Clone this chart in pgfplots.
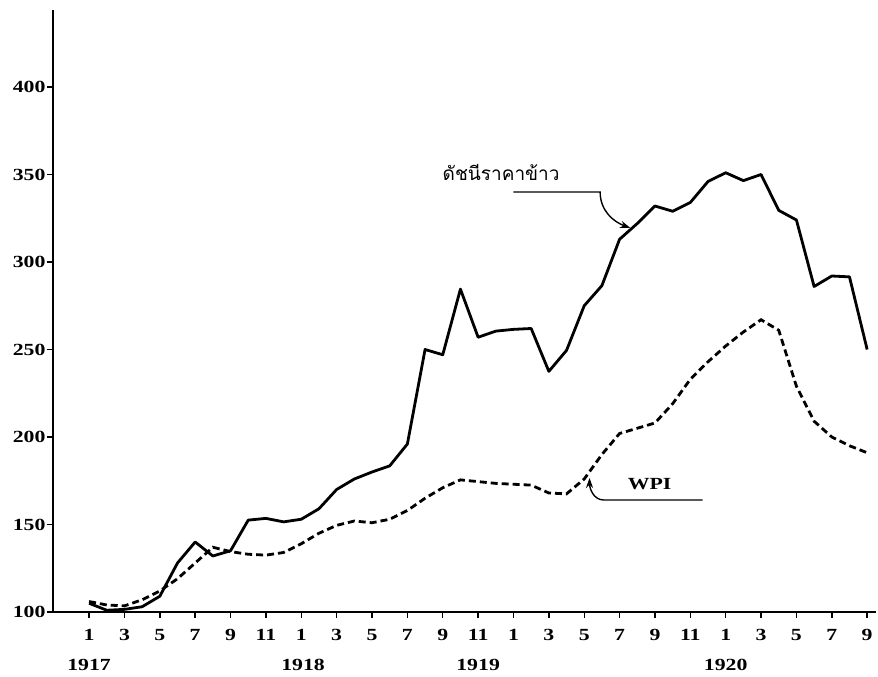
\documentclass[border=0pt]{standalone}
\usepackage{fontspec}
\setmainfont[FakeStretch=1.28]{Liberation Serif}
\newfontfamily\thaifont[Script=Thai]{Loma}
\usepackage{pgfplots}
\pgfplotsset{compat=1.18}
\usetikzlibrary{arrows.meta}

% month index: 0 = Jan 1917 ... 44 = Sep 1920
\pgfplotstableread{
m  rice
0  105
1  101
2  101.5
3  103
4  109
5  128
6  140
7  132
8  135
9  152.5
10 153.5
11 151.5
12 153
13 159
14 170
15 176
16 180
17 183.5
18 196
19 250
20 247
21 284.5
22 257
23 260.5
24 261.5
25 262
26 237.5
27 249.5
28 275
29 286.5
30 313
31 322
32 332
33 329
34 334
35 346
36 351
37 346.5
38 350
39 329.5
40 324
41 286
42 292
43 291.5
44 250
}\ricetable

\pgfplotstableread{
m  wpi
0  106
1  104
2  103.5
3  107
4  112
5  119
6  128
7  137
8  134.5
9  133
10 132.5
11 134
12 139
13 145
14 149.5
15 152
16 151
17 153
18 158
19 165
20 171
21 175.5
22 174.5
23 173.5
24 173
25 172.5
26 168
27 167.5
28 176
29 190
30 202
31 205
32 208
33 219
34 233
35 243
36 252
37 260
38 267
39 261
40 229
41 209
42 200
43 195
44 191
}\wpitable

\begin{document}
\begin{tikzpicture}
\begin{axis}[
  scale only axis,
  width=823pt, height=602pt,
  xmin=-2.04, xmax=44.5,
  ymin=100, ymax=444,
  axis x line=bottom, axis y line=left,
  axis line style={-, line width=2.2pt, black},
  xtick={0,2,...,44},
  xticklabels={1,3,5,7,9,11,1,3,5,7,9,11,1,3,5,7,9,11,1,3,5,7,9},
  ytick={100,150,...,400},
  tick align=outside,
  major tick length=6pt,
  tick style={line width=1.4pt, black},
  /pgf/number format/assume math mode=true,
  tick label style={font=\bfseries\fontsize{17}{20}\selectfont},
  xticklabel style={yshift=-8pt},
  yticklabel style={xshift=2pt},
  clip=false,
]
\addplot[black, line width=2.8pt, line join=round] table[x=m, y=rice] {\ricetable};
\addplot[black, line width=2.8pt, dash pattern=on 7pt off 4pt] table[x=m, y=wpi] {\wpitable};

\node[font=\thaifont\fontsize{19}{22}\selectfont] at (axis cs:23.3,351) {ดัชนีราคาข้าว};
\draw[line width=1.4pt, -{Stealth[length=10pt,width=7pt]}]
  (axis cs:24,340) -- (axis cs:28.9,340) to[out=-90,in=160] (axis cs:30.6,319.5);

\node[font=\bfseries\fontsize{17}{20}\selectfont] at (axis cs:31.7,173) {WPI};
\draw[line width=1.4pt, -{Stealth[length=10pt,width=7pt]}]
  (axis cs:34.7,164) -- (axis cs:29.1,164) to[out=180,in=-90] (axis cs:28.3,176.6);

\begin{scope}[font=\bfseries\fontsize{17}{20}\selectfont]
\node at (axis cs:0,100) [yshift=-53pt] {1917};
\node at (axis cs:12.1,100) [yshift=-53pt] {1918};
\node at (axis cs:22,100) [yshift=-53pt] {1919};
\node at (axis cs:36,100) [yshift=-53pt] {1920};
\end{scope}
\end{axis}
\pgfresetboundingbox
\path[use as bounding box] (-53pt,-65pt) rectangle (825pt,612pt);
\end{tikzpicture}
\end{document}
